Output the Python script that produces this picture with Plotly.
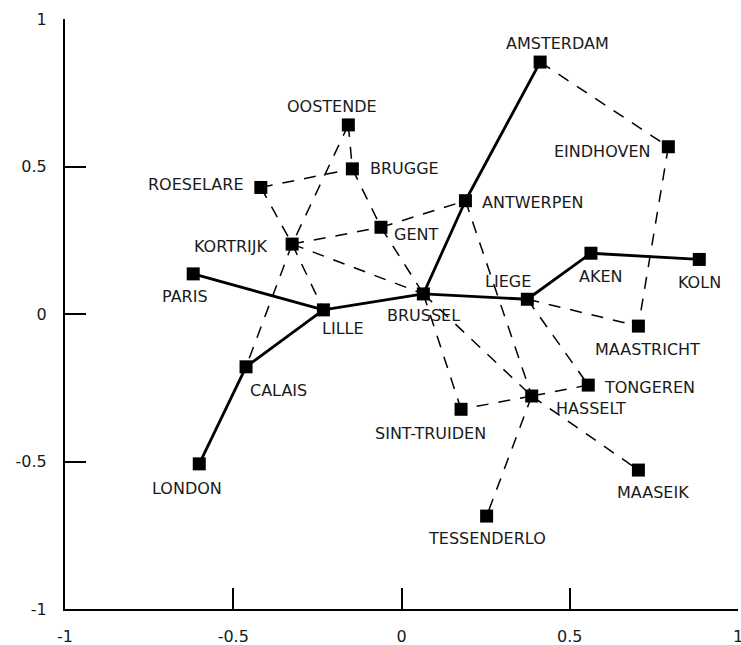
import plotly.graph_objects as go

# ---- data ----
cities = ["AMSTERDAM", "EINDHOVEN", "OOSTENDE", "BRUGGE", "ROESELARE", "GENT",
          "KORTRIJK", "PARIS", "LILLE", "BRUSSEL", "ANTWERPEN", "LIEGE", "AKEN",
          "KOLN", "MAASTRICHT", "TONGEREN", "HASSELT", "SINT-TRUIDEN", "MAASEIK",
          "TESSENDERLO", "CALAIS", "LONDON"]
x_vals = [0.412, 0.793, -0.158, -0.146, -0.418, -0.061,
          -0.325, -0.619, -0.232, 0.065, 0.190, 0.374, 0.563,
          0.885, 0.704, 0.555, 0.387, 0.177, 0.704,
          0.253, -0.462, -0.601]
y_vals = [0.854, 0.567, 0.641, 0.492, 0.429, 0.294,
          0.237, 0.136, 0.014, 0.068, 0.384, 0.050, 0.206,
          0.185, -0.041, -0.241, -0.278, -0.323, -0.529,
          -0.685, -0.179, -0.508]

solid_edges = [("LONDON", "CALAIS"), ("CALAIS", "LILLE"), ("PARIS", "LILLE"),
               ("LILLE", "BRUSSEL"), ("BRUSSEL", "ANTWERPEN"), ("ANTWERPEN", "AMSTERDAM"),
               ("BRUSSEL", "LIEGE"), ("LIEGE", "AKEN"), ("AKEN", "KOLN")]
dashed_edges = [("AMSTERDAM", "EINDHOVEN"), ("EINDHOVEN", "MAASTRICHT"),
                ("ROESELARE", "BRUGGE"), ("OOSTENDE", "BRUGGE"), ("BRUGGE", "GENT"),
                ("GENT", "ANTWERPEN"), ("GENT", "BRUSSEL"), ("KORTRIJK", "GENT"),
                ("KORTRIJK", "BRUSSEL"), ("ROESELARE", "KORTRIJK"), ("KORTRIJK", "LILLE"),
                ("OOSTENDE", "KORTRIJK"), ("KORTRIJK", "CALAIS"),
                ("BRUSSEL", "SINT-TRUIDEN"), ("BRUSSEL", "HASSELT"), ("HASSELT", "MAASEIK"),
                ("ANTWERPEN", "HASSELT"), ("LIEGE", "MAASTRICHT"), ("LIEGE", "TONGEREN"),
                ("TONGEREN", "HASSELT"), ("HASSELT", "SINT-TRUIDEN"), ("HASSELT", "TESSENDERLO")]

tick_vals = [-1, -0.5, 0, 0.5, 1]
tick_text = ["-1", "-0.5", "0", "0.5", "1"]

# ---- label placement (pixel offsets of label centre from node, +dy = down) ----
label_offsets = {
    "AMSTERDAM": (17, -19), "EINDHOVEN": (-66, 5), "OOSTENDE": (-16, -18),
    "BRUGGE": (52, 0), "ROESELARE": (-65, -3), "GENT": (35, 7),
    "KORTRIJK": (-62, 2), "PARIS": (-8, 23), "LILLE": (20, 19),
    "BRUSSEL": (0, 22), "ANTWERPEN": (67, 2), "LIEGE": (-19, -18),
    "AKEN": (10, 23), "KOLN": (0, 23), "MAASTRICHT": (9, 23),
    "TONGEREN": (61, 2), "HASSELT": (59, 12), "SINT-TRUIDEN": (-31, 24),
    "MAASEIK": (15, 22), "TESSENDERLO": (0, 22), "CALAIS": (32, 24),
    "LONDON": (-12, 25),
}

pos = {c: (x, y) for c, x, y in zip(cities, x_vals, y_vals)}


def edge_xy(edges):
    xs, ys = [], []
    for a, b in edges:
        xs += [pos[a][0], pos[b][0], None]
        ys += [pos[a][1], pos[b][1], None]
    return xs, ys


FONT = "DejaVu Sans, Verdana, sans-serif"
TXT = "#1a1a1a"

fig = go.Figure()
dx, dy = edge_xy(dashed_edges)
fig.add_trace(go.Scatter(x=dx, y=dy, mode="lines",
                         line=dict(color="black", width=1.5, dash="12px,10px"),
                         hoverinfo="skip", showlegend=False, cliponaxis=False))
sx, sy = edge_xy(solid_edges)
fig.add_trace(go.Scatter(x=sx, y=sy, mode="lines",
                         line=dict(color="black", width=2.8),
                         hoverinfo="skip", showlegend=False, cliponaxis=False))
fig.add_trace(go.Scatter(x=x_vals, y=y_vals, mode="markers", text=cities,
                         marker=dict(symbol="square", size=13, color="black",
                                     line=dict(width=0)),
                         showlegend=False, cliponaxis=False))

for c, x, y in zip(cities, x_vals, y_vals):
    ox, oy = label_offsets[c]
    fig.add_annotation(x=x, y=y, text=c, showarrow=False,
                       xanchor="center", yanchor="middle",
                       xshift=ox, yshift=-oy,
                       font=dict(family=FONT, size=16, color=TXT))

axis_common = dict(range=[-1, 1], tickvals=tick_vals, ticktext=tick_text,
                   ticks="inside", ticklen=21, tickwidth=2, tickcolor="black",
                   showline=True, linecolor="black", linewidth=2,
                   showgrid=False, zeroline=False, automargin=False,
                   ticklabeloverflow="allow",
                   tickfont=dict(family=FONT, size=16, color=TXT))

fig.update_layout(
    width=741, height=645,
    margin=dict(l=65, r=3, t=19, b=36, autoexpand=False),
    plot_bgcolor="white", paper_bgcolor="white",
    xaxis=dict(**axis_common, ticklabelstandoff=12),
    yaxis=dict(**axis_common, ticklabelstandoff=13),
)

# remove the default 8px page margin so the figure fills the window exactly
fig.write_html("out.html",
               config={"displayModeBar": False},
               post_script="document.body.style.margin='0';"
                           "document.documentElement.style.overflow='hidden';")
